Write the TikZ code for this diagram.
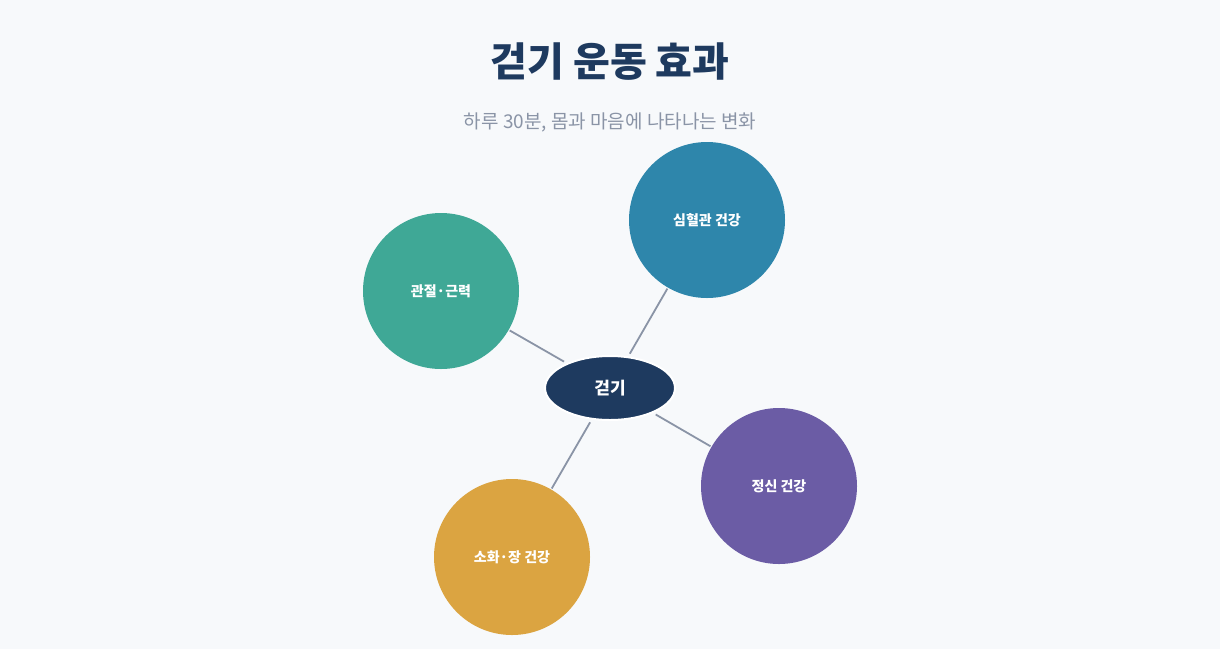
\documentclass[tikz,border=0pt]{standalone}
\usepackage{fontspec}
\setmainfont{Noto Sans CJK KR}
\usetikzlibrary{shapes.geometric}
\definecolor{bg}{HTML}{F7F9FB}
\definecolor{navy}{HTML}{1E3A5F}
\definecolor{gr}{HTML}{8A94A6}
\definecolor{teal}{HTML}{3FA896}
\definecolor{blu}{HTML}{2E86AB}
\definecolor{pur}{HTML}{6B5CA5}
\definecolor{gold}{HTML}{DBA441}
\begin{document}
\begin{tikzpicture}[x=1pt,y=-1pt,
  leaf/.style={circle,minimum size=156pt,inner sep=0pt,text=white,font=\fontsize{14}{16}\selectfont\bfseries},
  link/.style={draw=gr,line width=1.8pt,shorten <=3pt,shorten >=1pt}]
\fill[bg] (0,0) rectangle (1220,649);
\useasboundingbox (0,0) rectangle (1220,649);
\node[text=navy,font=\fontsize{40}{44}\selectfont\bfseries] (t) at (610,62) {걷기 운동 효과};
\node[text=gr,font=\fontsize{19}{22}\selectfont] (s) at (610,122) {하루 30분, 몸과 마음에 나타나는 변화};
\node[leaf,fill=teal] (a) at (441,291) {관절·근력};
\node[leaf,fill=blu] (b) at (707,220) {심혈관 건강};
\node[leaf,fill=pur] (c) at (779,486) {정신 건강};
\node[leaf,fill=gold] (d) at (512,557) {소화·장 건강};
\node[ellipse,fill=navy,draw=white,line width=2pt,minimum width=130pt,minimum height=64pt,inner sep=0pt,text=white,font=\fontsize{17}{20}\selectfont\bfseries] (m) at (610,388) {걷기};
\foreach \n in {a,b,c,d} \draw[link] (m) -- (\n);
\end{tikzpicture}
\end{document}
